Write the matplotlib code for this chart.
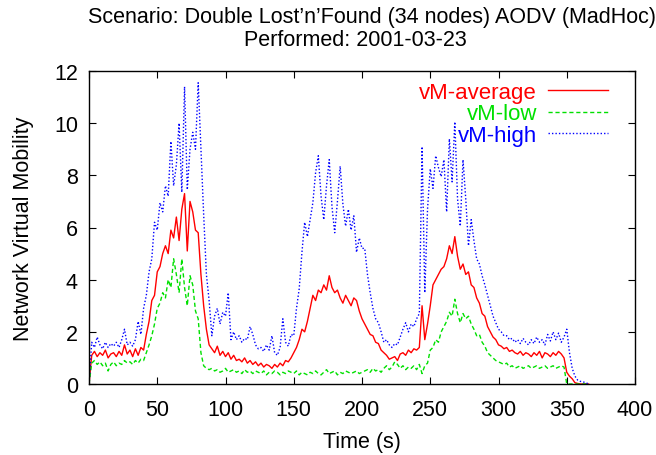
import matplotlib
matplotlib.use("Agg")
import matplotlib.pyplot as plt

plt.rcParams['font.family'] = ['Liberation Sans', 'DejaVu Sans']

# time grid (s), one sample every 2 s
t = list(range(0, 368, 2))

vm_average = [
    0.0, 1.1, 1.25, 1.05, 1.2, 1.1, 1.3, 1.0, 1.15, 1.2,
    1.05, 1.25, 1.1, 1.5, 1.15, 1.3, 1.05, 1.35, 1.1, 1.4,
    1.3, 1.9, 2.4, 3.2, 3.4, 4.3, 4.5, 5.0, 5.3, 5.0,
    5.9, 5.6, 6.4, 5.5, 6.7, 7.3, 5.1, 7.0, 6.6, 5.9,
    5.8, 4.2, 3.0, 2.1, 1.5, 1.35, 1.2, 1.45, 1.1, 1.25,
    1.05, 1.2, 0.95, 1.1, 0.9, 0.95, 0.85, 1.0, 0.8, 0.9,
    0.75, 0.85, 0.7, 0.8, 0.65, 0.75, 0.7, 0.6, 0.75, 0.65,
    0.8, 0.7, 0.9, 0.85, 1.0, 1.2, 1.4, 1.7, 2.1, 2.0,
    2.4, 2.9, 3.4, 3.2, 3.6, 3.5, 3.8, 3.6, 4.15, 3.7,
    3.5, 3.6, 3.3, 3.1, 3.4, 3.2, 3.0, 3.3, 3.2, 2.8,
    2.5, 2.3, 2.1, 1.9, 1.85, 1.6, 1.55, 1.3, 1.2, 1.1,
    0.95, 1.0, 1.05, 0.9, 1.15, 1.2, 1.1, 1.3, 1.2, 1.35,
    1.3, 1.4, 3.0, 1.7, 2.3, 3.0, 3.8, 4.0, 4.2, 4.4,
    4.5, 4.8, 5.3, 5.0, 5.65, 4.9, 4.4, 4.6, 4.2, 4.3,
    3.8, 3.7, 3.3, 3.1, 2.7, 2.6, 2.2, 2.0, 1.8, 1.7,
    1.5, 1.45, 1.35, 1.4, 1.25, 1.3, 1.2, 1.15, 1.25, 1.1,
    1.2, 1.15, 1.05, 1.2, 1.1, 1.25, 1.0, 1.2, 1.15, 1.05,
    1.2, 1.1, 1.25, 1.15, 1.0, 0.45, 0.3, 0.2, 0.05, 0.02,
    0.0, 0.0, 0.0, 0.0,
]

vm_low = [
    0.0, 0.8, 0.9, 0.75, 0.85, 0.7, 0.8, 0.5, 0.75, 0.85,
    0.7, 0.8, 0.75, 0.9, 0.8, 0.85, 0.75, 0.9, 0.8, 0.95,
    0.9, 1.2, 1.5, 1.85, 2.3, 2.9, 3.1, 3.5, 3.3, 4.0,
    3.7, 4.8, 4.2, 3.5, 4.8, 3.7, 3.0, 4.15, 3.8, 2.8,
    2.5, 1.2, 0.7, 0.6, 0.55, 0.6, 0.5, 0.55, 0.45, 0.5,
    0.6, 0.45, 0.5, 0.55, 0.45, 0.5, 0.4, 0.55, 0.45, 0.5,
    0.4, 0.5, 0.45, 0.4, 0.5, 0.35, 0.45, 0.4, 0.5, 0.45,
    0.35, 0.45, 0.4, 0.5, 0.45, 0.4, 0.5, 0.35, 0.45, 0.4,
    0.35, 0.45, 0.4, 0.5, 0.4, 0.35, 0.45, 0.55, 0.4, 0.45,
    0.5, 0.35, 0.45, 0.4, 0.5, 0.45, 0.4, 0.45, 0.5, 0.4,
    0.45, 0.5, 0.55, 0.45, 0.6, 0.5, 0.55, 0.45, 0.6, 0.7,
    0.55, 0.65, 0.85, 0.75, 0.6, 0.7, 0.55, 0.65, 0.6, 0.7,
    0.55, 0.75, 0.4, 0.7, 0.8, 1.3, 1.4, 1.7, 1.6, 2.0,
    2.2, 2.4, 2.75, 2.6, 3.25, 2.7, 2.35, 2.7, 2.5, 2.6,
    2.3, 2.1, 1.85, 1.9, 1.6, 1.45, 1.2, 1.1, 1.0, 0.9,
    0.85, 0.8, 0.75, 0.8, 0.65, 0.7, 0.6, 0.65, 0.7, 0.6,
    0.65, 0.7, 0.6, 0.65, 0.7, 0.6, 0.65, 0.7, 0.6, 0.65,
    0.7, 0.6, 0.65, 0.7, 0.65, 0.0, 0.0, 0.0, 0.0, 0.0,
    0.0, 0.0, 0.0, 0.0,
]

vm_high = [
    0.0, 1.6, 1.4, 1.8, 1.5, 1.35, 1.6, 1.4, 1.55, 1.45,
    1.6, 1.4, 1.7, 2.1, 1.5, 1.6, 1.45, 1.7, 2.4, 1.9,
    2.9, 3.4, 4.3, 4.8, 6.2, 5.9, 6.95, 6.6, 7.6, 7.2,
    9.3, 7.6, 8.4, 10.0, 7.35, 11.4, 7.45, 9.0, 9.65, 9.0,
    11.55, 9.0, 6.5, 4.2, 3.2, 1.85, 2.6, 2.9, 2.3, 2.75,
    2.6, 3.5, 1.7, 2.0, 1.7, 1.85, 1.6, 1.75, 1.7, 2.2,
    1.9, 1.5, 1.35, 1.4, 1.25, 1.5, 1.3, 1.85, 1.2, 1.1,
    1.4, 2.5, 1.6, 1.45, 1.9, 1.85, 2.9, 3.65, 5.05, 6.2,
    5.65, 6.3, 6.95, 8.1, 8.75, 7.2, 6.3, 7.6, 8.6, 6.8,
    5.8, 7.0, 8.35, 6.9, 6.05, 6.7, 5.9, 6.45, 5.05, 5.6,
    5.2, 5.2, 4.2, 3.5, 2.9, 2.5, 2.35, 2.0, 1.6, 1.7,
    1.5, 1.4, 1.55, 1.5, 1.8, 2.1, 2.35, 2.0, 2.3, 2.2,
    2.5, 2.7, 9.1, 3.5, 6.7, 8.25, 7.5, 8.75, 8.3, 7.95,
    8.6, 6.6, 9.4, 7.75, 10.05, 7.1, 6.05, 8.6, 7.1, 5.3,
    6.3, 5.5, 4.8, 4.6, 4.15, 3.8, 3.4, 3.0, 2.6, 2.35,
    2.1, 2.0, 1.85, 1.85, 1.7, 1.75, 1.6, 1.7, 1.55, 1.75,
    1.6, 1.5, 1.7, 1.55, 1.8, 1.6, 1.7, 1.5, 1.9, 1.65,
    2.0, 1.7, 1.95, 1.6, 1.8, 2.1, 1.2, 0.6, 0.3, 0.15,
    0.1, 0.08, 0.05, 0.0,
]

fig = plt.figure(figsize=(6.56, 4.56), dpi=100)
ax = fig.add_axes([89 / 656, 1 - 385 / 456, 546 / 656, 313 / 456])

ax.plot(t, vm_average, color='#ff0000', lw=1.0, label='vM-average')
ax.plot(t, vm_low, color='#00e000', lw=1.0, ls=(0, (3, 2)), label='vM-low')
ax.plot(t, vm_high, color='#0000ff', lw=1.0, ls=(0, (1, 1.5)), label='vM-high')

ax.set_xlim(0, 400)
ax.set_ylim(0, 12)
ax.set_xticks(range(0, 401, 50))
ax.set_yticks(range(0, 13, 2))
ax.tick_params(direction='in', top=True, right=True, length=5, labelsize=15.5)
ax.tick_params(axis='x', pad=11)
ax.tick_params(axis='y', pad=8)
for s in ax.spines.values():
    s.set_linewidth(1.0)

ax.set_xlabel('Time (s)', fontsize=15.5, labelpad=8)
ax.set_ylabel('Network Virtual Mobility', fontsize=15.5, labelpad=14)

# two title lines, placed like the gnuplot original (first line runs off the right edge)
fig.text(88 / 656, 1 - 18 / 456, "Scenario: Double Lost\u2019n\u2019Found (34 nodes) AODV (MadHoc)",
         fontsize=15.5, ha='left', va='center')
fig.text(355 / 656, 1 - 40 / 456, "Performed: 2001-03-23",
         fontsize=15.5, ha='center', va='center')

ax.legend(loc='upper right', bbox_to_anchor=(0.951, 0.965), frameon=False,
          markerfirst=False, labelcolor='linecolor', fontsize=16,
          handlelength=2.7, handletextpad=0.5, labelspacing=0.02,
          borderpad=0, borderaxespad=0)

fig.savefig('out.png', dpi=100)
